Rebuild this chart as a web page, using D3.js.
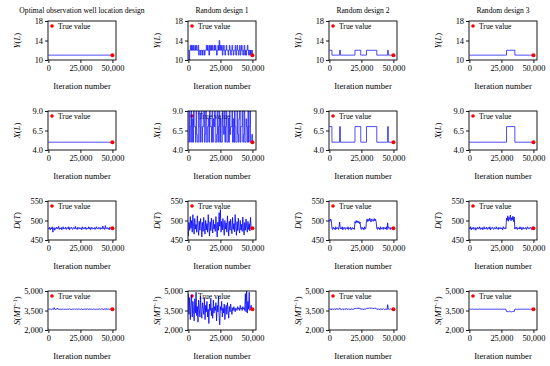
<!DOCTYPE html>
<html><head><meta charset="utf-8">
<script src="https://cdn.jsdelivr.net/npm/d3@7"></script>
<style>body{margin:0;background:#fff}text{font-family:"Liberation Serif","Times New Roman",serif;fill:#000}</style>
</head><body><svg id="c" width="550" height="366"></svg>
<script>
// ---------- DATA ----------
const titles = ["Optimal observation well location design","Random design 1","Random design 2","Random design 3"];
const xTicks = [0, 25000, 50000];
const xLabel = "Iteration number";
const legendLabel = "True value";
const trueIter = 50000;
const trueY = 11, trueX = 5, trueD = 480, trueS = 3600;
const yTicksY = [10, 14, 18];
const yTicksX = [4.0, 6.5, 9.0];
const yTicksD = [450, 500, 550];
const yTicksS = [2000, 3500, 5000];

// step traces: change-point iterations and values
const y1Iter = [0, 50000], y1Val = [11, 11];
const x1Iter = [0, 50000], x1Val = [5, 5];
const y3Iter = [0, 2000, 8000, 8600, 20000, 24500, 29000, 37000, 45500, 46000, 50000];
const y3Val  = [12, 11, 12, 11, 12, 11, 12, 11, 12, 11, 11];
const x3Iter = [0, 2000, 8000, 8600, 20000, 24500, 29000, 37000, 45500, 46000, 50000];
const x3Val  = [7, 5, 7, 5, 7, 5, 7, 5, 7, 5, 5];
const y4Iter = [0, 29000, 35500, 50000], y4Val = [11, 12, 11, 11];
const x4Iter = [0, 29000, 35500, 50000], x4Val = [5, 7, 5, 5];

// sampled traces (evenly spaced samples over 0..50,000 iterations)
const y2Val = [12,10,12,13,12,13,12,13,12,12,13,12,13,12,12,13,11,12,12,11,12,12,11,12,12,11,12,12,13,12,13,12,11,13,12,13,12,13,12,12,13,12,13,12,11,12,13,12,14,12,13,12,13,11,12,13,12,11,12,13,12,12,11,12,13,12,11,12,13,12,11,12,12,13,11,12,13,12,11,12,13,11,12,13,12,11,12,13,11,12,11,12,13,12,11,12,11,12,11,12,11];
const x2Val = [5,9,5,7,9,5,8,5,9,7,7,5,9,6,5,5,9,7,5,8,9,5,7,7,9,5,6,9,5,5,7,8,5,9,7,7,5,9,5,8,7,9,5,5,6,9,5,7,9,5,8,5,5,9,7,6,9,5,7,9,5,5,8,5,9,6,7,7,9,5,8,5,9,7,5,5,9,6,5,8,9,5,7,7,9,5,6,9,5,5,8,7,5,9,5,7,9,5,5,6,5];
const d1Val = [480,478,483,476,481,479,484,470,480,482,475,481,479,483,478,480,485,477,481,479,482,476,480,484,478,481,479,483,477,480,482,478,484,476,481,480,483,479,477,482,480,478,485,479,481,477,483,480,478,482,479,481,476,484,480,478,482,479,483,477,481,480,478,484,479,482,476,481,483,478,480,479,482,477,481,484,478,480,479,483,481,477,482,480,478,486,479,481,477,487,480,478,482,479,481,476,483,480,478,481,480];
const d2Val = [460,495,475,510,480,500,470,515,485,465,505,478,490,470,512,482,462,498,475,505,488,458,495,472,508,480,465,500,476,492,470,515,483,460,497,474,506,486,468,502,478,490,472,510,480,458,496,475,520,485,528,470,498,476,505,482,462,500,478,494,470,512,485,460,498,475,503,480,466,508,477,492,471,515,484,462,497,474,506,480,468,500,476,490,472,509,482,463,495,475,504,486,470,498,477,492,473,508,480,476,482];
const d3Val = [502,498,504,500,480,477,483,479,481,476,484,478,480,482,477,483,496,479,481,478,484,476,480,483,479,477,482,480,478,484,477,481,479,483,476,480,482,478,481,477,497,493,500,495,499,494,498,492,496,480,477,483,479,481,476,484,478,480,500,504,497,503,499,506,501,496,504,500,502,498,505,499,503,497,480,477,483,479,481,476,484,478,480,482,477,483,479,481,478,484,476,494,480,483,479,477,482,480,478,481,480];
const d4Val = [482,478,484,476,481,479,483,477,480,482,475,481,479,483,478,480,484,477,481,479,482,476,480,484,478,481,479,483,477,480,482,478,484,476,481,480,483,479,477,482,480,478,484,479,481,477,483,480,478,482,479,481,476,484,480,478,482,479,506,500,512,498,508,503,514,499,507,502,511,497,509,478,482,479,483,477,481,480,478,484,479,482,476,481,483,478,480,479,482,477,481,484,478,480,479,483,481,477,482,480,479];
const s1Val = [3620,3580,3610,3590,3630,3570,3600,3640,3585,3720,3600,3575,3615,3595,3680,3590,3605,3580,3625,3600,3570,3610,3595,3630,3580,3600,3615,3590,3575,3620,3600,3585,3610,3640,3590,3600,3570,3620,3595,3605,3580,3630,3600,3590,3615,3575,3600,3620,3590,3610,3585,3600,3630,3570,3605,3595,3620,3580,3600,3610,3590,3640,3575,3600,3615,3585,3605,3595,3620,3580,3600,3630,3590,3610,3570,3600,3620,3585,3605,3595,3615,3580,3600,3625,3590,3610,3575,3600,3620,3590,3660,3585,3605,3595,3615,3580,3600,3620,3590,3605,3600];
const s2Val = [4800,3200,4500,2800,3900,4700,3000,4200,3500,2700,4400,3300,4900,3100,3800,2600,4300,3600,3000,4600,3400,2900,4100,3700,3200,4500,2800,3900,3400,4200,3000,3600,2500,4000,3500,4400,3100,3700,2900,4300,3300,3800,3500,4100,2700,3900,3400,4600,3100,2400,3800,3500,4200,3000,3700,3300,4000,2800,3600,3900,3200,4100,3500,2900,3800,3400,4000,3600,3200,3700,3500,3800,3600,3400,3700,3600,3500,3800,3600,3700,3500,3900,3600,3700,3500,3800,3600,3700,3500,4800,3400,5000,3300,4200,3600,4900,3500,3700,3900,3600,3600];
const s3Val = [3650,3580,3620,3560,3640,3590,3610,3570,3630,3600,3560,3650,3590,3620,3580,3640,3700,3590,3610,3570,3630,3600,3560,3640,3590,3620,3580,3650,3600,3570,3630,3590,3610,3560,3640,3600,3580,3620,3590,3650,3680,3620,3700,3650,3690,3640,3710,3660,3680,3590,3610,3570,3630,3600,3560,3640,3590,3620,3660,3700,3640,3690,3650,3710,3670,3640,3700,3660,3690,3650,3700,3640,3680,3660,3590,3610,3570,3630,3600,3560,3640,3590,3620,3580,3650,3600,3570,3630,3590,3610,3560,3950,3620,3590,3580,3640,3600,3570,3630,3600,3610];
const s4Val = [3610,3590,3605,3595,3600,3612,3588,3603,3597,3608,3592,3600,3606,3594,3602,3598,3610,3590,3604,3596,3600,3609,3591,3603,3597,3605,3595,3601,3607,3593,3600,3604,3596,3608,3592,3602,3598,3606,3594,3600,3610,3590,3603,3597,3605,3595,3601,3608,3592,3604,3596,3600,3606,3594,3602,3598,3605,3595,3430,3400,3440,3390,3420,3445,3405,3435,3395,3425,3410,3440,3415,3600,3606,3594,3602,3598,3610,3590,3604,3596,3600,3609,3591,3603,3597,3605,3595,3601,3607,3593,3600,3604,3596,3608,3592,3602,3598,3606,3594,3600,3600];

// ---------- LAYOUT ----------
const svg = d3.select("#c");
const colLeft = [48, 188, 329, 469];
const rowTop = [21, 111, 201, 291];
const pw = 68, ph = 39;
const xDomain = [-300, 52800];

const rows = [
  {label:[["Y",true],["(",false],["L",true],[")",false]], domain:[10,18], ticks:yTicksY, fmt:d3.format("d"), truth:trueY,
   series:[{it:y1Iter,v:y1Val},{v:y2Val,step:true},{it:y3Iter,v:y3Val},{it:y4Iter,v:y4Val}]},
  {label:[["X",true],["(",false],["L",true],[")",false]], domain:[4,9], ticks:yTicksX, fmt:d3.format(".1f"), truth:trueX,
   series:[{it:x1Iter,v:x1Val},{v:x2Val,step:true},{it:x3Iter,v:x3Val},{it:x4Iter,v:x4Val}]},
  {label:[["D",true],["(",false],["T",true],[")",false]], domain:[450,550], ticks:yTicksD, fmt:d3.format("d"), truth:trueD,
   series:[{v:d1Val},{v:d2Val},{v:d3Val},{v:d4Val}]},
  {label:[["S",true],["(",false],["MT",true],["−1",false,true],[")",false]], domain:[2000,5000], ticks:yTicksS, fmt:d3.format(","), truth:trueS,
   series:[{v:s1Val},{v:s2Val},{v:s3Val},{v:s4Val}]}
];

let clipId = 0;
rows.forEach((row, r) => {
  row.series.forEach((ser, c) => {
    const L = colLeft[c], T = rowTop[r];
    const x = d3.scaleLinear().domain(xDomain).range([L, L + pw]);
    const y = d3.scaleLinear().domain(row.domain).range([T + ph, T]);
    const g = svg.append("g");

    if (r === 0) {
      g.append("text").attr("x", L + pw/2).attr("y", 13).attr("text-anchor","middle")
        .style("font-size","7.6px").text(titles[c]);
    }
    g.append("circle").attr("cx", L + 4).attr("cy", T + 5).attr("r", 1.8).attr("fill","red");
    g.append("text").attr("x", L + 10).attr("y", T + 7.6).style("font-size","7.6px").text(legendLabel);

    const id = "clip" + (clipId++);
    svg.append("clipPath").attr("id", id).append("rect").attr("x", L).attr("y", T).attr("width", pw).attr("height", ph);
    const n = ser.v.length;
    const pts = ser.it ? ser.v.map((v,i)=>[ser.it[i], v]) : ser.v.map((v,i)=>[i*50000/(n-1), v]);
    const line = d3.line().x(d=>x(d[0])).y(d=>y(d[1]))
      .curve(ser.it || ser.step ? d3.curveStepAfter : d3.curveLinear);
    g.append("path").datum(pts).attr("clip-path", `url(#${id})`)
      .attr("fill","none").attr("stroke","#0000ff")
      .attr("stroke-width", ser.it ? 0.7 : (ser.step ? 0.7 : 0.8)).attr("d", line);

    g.append("circle").attr("cx", x(trueIter)).attr("cy", y(row.truth)).attr("r", 2).attr("fill","red");

    g.append("rect").attr("x", L).attr("y", T).attr("width", pw).attr("height", ph)
      .attr("fill","none").attr("stroke","#000").attr("stroke-width",0.9);

    const ax = g.append("g").attr("transform", `translate(0,${T+ph})`)
      .call(d3.axisBottom(x).tickValues(xTicks).tickFormat(d3.format(",")).tickSize(3).tickPadding(2));
    const ay = g.append("g").attr("transform", `translate(${L},0)`)
      .call(d3.axisLeft(y).tickValues(row.ticks).tickFormat(row.fmt).tickSize(3).tickPadding(2));
    [ax, ay].forEach(a => {
      a.select(".domain").remove();
      a.selectAll("line").attr("stroke","#000").attr("stroke-width",0.9);
      a.selectAll("text").style("font-size","8.4px").style("font-family",'"Liberation Serif",serif');
    });

    g.append("text").attr("x", L + pw/2).attr("y", T + ph + 29).attr("text-anchor","middle")
      .style("font-size","8.6px").text(xLabel);

    const lx = L - 28, ly = T + ph/2;
    const yl = g.append("text").attr("transform", `translate(${lx},${ly}) rotate(-90)`)
      .attr("text-anchor","middle").style("font-size","8.6px");
    row.label.forEach(([t, it, sup]) => {
      const ts = yl.append("tspan").text(t);
      if (it) ts.style("font-style","italic");
      if (sup) ts.attr("baseline-shift","super").style("font-size","6px");
    });
  });
});
</script></body></html>
